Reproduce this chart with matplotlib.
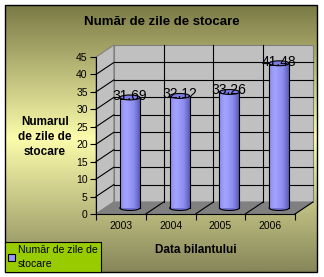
import numpy as np
import matplotlib
matplotlib.use('Agg')
import matplotlib.pyplot as plt
from matplotlib.patches import Rectangle, Polygon, Ellipse
from matplotlib.colors import LinearSegmentedColormap

# chart data
years = ['2003', '2004', '2005', '2006']
values = [31.69, 32.12, 33.26, 41.48]
title = 'Număr de zile de stocare'
ylabel = 'Numarul\nde zile de\nstocare'
xlabel = 'Data bilantului'
series_name = 'Număr de zile de\nstocare'

plt.rcParams['font.family'] = ['Liberation Sans', 'DejaVu Sans']

W, H = 324, 277
fig = plt.figure(figsize=(W / 100, H / 100), dpi=100)

# background (pixel coordinates)
bg = fig.add_axes([0, 0, 1, 1])
bg.axis('off')
bg_cmap = LinearSegmentedColormap.from_list(
    'bg', [(0.0, '#7a7a46'), (0.5, '#fcfcac'), (1.0, '#86865a')])
bg.imshow(np.linspace(0, 1, 256)[:, None], extent=(5, 317, 272, 5),
          cmap=bg_cmap, aspect='auto')
bg.set_xlim(0, W)
bg.set_ylim(H, 0)
bg.add_patch(Rectangle((5, 5), 312, 267, fill=False, ec='black', lw=1))
bg.text(162, 22, title, ha='center', va='center', fontsize=9.5, fontweight='bold')
bg.text(45, 137, ylabel, ha='center', va='center', fontsize=8.5,
        fontweight='bold', linespacing=1.3)
bg.text(196, 250, xlabel, ha='center', va='center', fontsize=8.5,
        fontweight='bold')

# main axes = front face of the 3d box
ax = fig.add_axes([96 / W, (H - 214) / H, (295 - 96) / W, (214 - 57) / H])
ax.set_xlim(-0.5, 3.5)
ax.set_ylim(0, 45)
ax.patch.set_visible(False)
for s in ['top', 'right']:
    ax.spines[s].set_visible(False)
ax.spines['left'].set_linewidth(0.8)
ax.spines['bottom'].set_linewidth(0.8)

DX = 18 / 50.0            # depth offset in data units
DY = 12 / (157 / 45.0)

# walls and floor
ax.add_patch(Rectangle((-0.5 + DX, DY), 4, 45, fc='#c0c0c0', ec='#808080',
                       lw=0.8, clip_on=False, zorder=0))
ax.add_patch(Polygon([(-0.5, 0), (-0.5, 45), (-0.5 + DX, 45 + DY), (-0.5 + DX, DY)],
                     closed=True, fc='#c0c0c0', ec='#808080', lw=0.8,
                     clip_on=False, zorder=0))
ax.add_patch(Polygon([(-0.5, 0), (3.5, 0), (3.5 + DX, DY), (-0.5 + DX, DY)],
                     closed=True, fc='#808080', ec='#808080', lw=0.8,
                     clip_on=False, zorder=0))

for y in range(5, 45, 5):
    ax.plot([-0.5 + DX, 3.5 + DX], [y + DY, y + DY], color='black', lw=0.8,
            clip_on=False, zorder=1)
    ax.plot([-0.5, -0.5 + DX], [y, y + DY], color='black', lw=0.8,
            clip_on=False, zorder=1)
for b in [0.5, 1.5, 2.5]:
    ax.plot([b + DX, b + DX], [DY, 45 + DY], color='black', lw=0.8,
            clip_on=False, zorder=1)
for b in [0.5, 1.5, 2.5, 3.5]:
    ax.plot([b, b + DX], [0, DY], color='black', lw=0.8, clip_on=False, zorder=1)

# cylinders
cyl_cmap = LinearSegmentedColormap.from_list(
    'cyl', [(0.0, '#8c8cf0'), (0.3, '#a4a4ff'), (0.7, '#8c8cf0'), (1.0, '#5c5cb4')])
w = 0.4
eh = 1.4
for i, v in enumerate(values):
    cx = i + DX / 2
    y0 = DY / 2
    y1 = v + DY / 2
    ax.add_patch(Ellipse((cx, y0), w, eh, fc='#7070d0', ec='black', lw=0.8,
                         clip_on=False, zorder=2))
    ax.imshow(np.linspace(0, 1, 64)[None, :], cmap=cyl_cmap, aspect='auto',
              extent=(cx - w / 2, cx + w / 2, y0, y1), zorder=3)
    ax.plot([cx - w / 2, cx - w / 2], [y0, y1], color='black', lw=0.8, zorder=3)
    ax.plot([cx + w / 2, cx + w / 2], [y0, y1], color='black', lw=0.8, zorder=3)
    ax.add_patch(Ellipse((cx, y1), w, eh, fc='#7c7ce0', ec='black', lw=0.8,
                         clip_on=False, zorder=4))
    ax.text(cx, y1 + 0.5, f'{v:.2f}', ha='center', va='center', fontsize=10,
            zorder=5)

ax.set_xlim(-0.5, 3.5)
ax.set_ylim(0, 45)

ax.set_yticks(range(0, 50, 5))
ax.tick_params(axis='y', direction='out', length=4, width=0.8, labelsize=7.5, pad=2)
ax.set_xticks([-0.5, 0.5, 1.5, 2.5, 3.5])
ax.set_xticklabels([])
ax.tick_params(axis='x', which='major', direction='out', length=4, width=0.8)
ax.set_xticks(range(4), minor=True)
ax.set_xticklabels(years, minor=True)
ax.tick_params(axis='x', which='minor', length=0, labelsize=7.5, pad=5)

# legend
handle = Rectangle((0, 0), 1, 1, fc='#9999ff', ec='black', lw=0.8)
leg = ax.legend([handle], [series_name], loc='lower left',
                bbox_to_anchor=(5 / W, 5 / H), bbox_transform=fig.transFigure,
                borderaxespad=0, fancybox=False, facecolor='#99cc00',
                edgecolor='black', framealpha=1, fontsize=7.6,
                handlelength=0.65, handleheight=0.65, handletextpad=0.25,
                borderpad=0.3)
leg.get_texts()[0].set_linespacing(1.45)
leg.get_frame().set_linewidth(0.8)

fig.savefig('out.png', dpi=100)
